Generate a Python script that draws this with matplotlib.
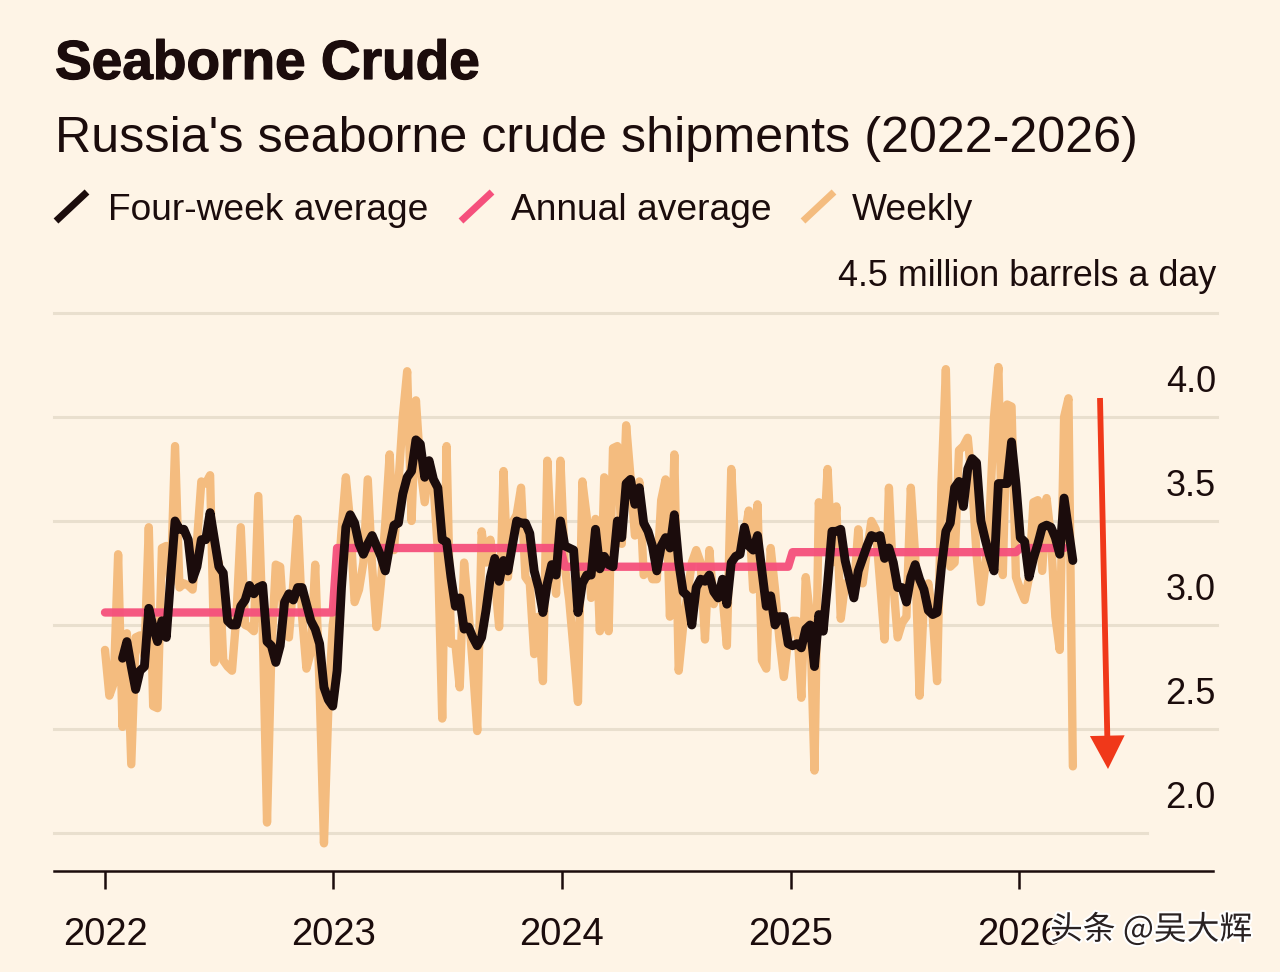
import matplotlib
matplotlib.use("Agg")
import matplotlib.pyplot as plt
import matplotlib.dates as mdates
import matplotlib.patheffects as pe
from matplotlib.lines import Line2D
import pandas as pd

# ── Data ──────────────────────────────────────────────────────────────────────
weekly = [
    2.88, 2.66, 2.72, 3.34, 2.51, 2.96, 2.33, 2.94, 2.95, 2.85, 3.47, 2.61, 2.60,
    3.37, 3.38, 3.20, 3.86, 3.18, 3.20, 3.19, 3.17, 3.40, 3.69, 3.68, 3.72, 2.82,
    3.30, 2.83, 2.80, 2.78, 3.04, 3.47, 3.00, 2.99, 2.97, 3.62, 3.00, 2.05, 2.88,
    3.29, 3.28, 2.96, 2.94, 3.20, 3.51, 3.04, 2.79, 2.87, 3.29, 2.70, 1.95, 2.60,
    3.00, 3.15, 3.45, 3.71, 3.49, 3.11, 3.17, 3.30, 3.70, 3.28, 2.99, 3.20, 3.49,
    3.82, 3.36, 3.68, 4.00, 4.22, 3.50, 4.08, 3.76, 3.59, 3.76, 3.68, 3.36, 2.55,
    3.86, 2.91, 2.91, 2.70, 3.30, 3.07, 2.80, 2.49, 3.45, 3.30, 3.41, 3.23, 2.99,
    3.74, 3.23, 3.49, 3.53, 3.66, 3.23, 3.20, 2.86, 3.04, 2.73, 3.79, 3.36, 3.15,
    3.79, 3.28, 3.12, 2.88, 2.63, 3.69, 3.52, 3.13, 3.51, 2.97, 3.71, 2.97, 3.85,
    3.86, 3.39, 3.96, 3.71, 3.43, 3.69, 3.24, 3.28, 3.22, 3.22, 3.60, 3.70, 3.04,
    3.82, 2.78, 2.99, 3.15, 3.30, 3.36, 3.30, 2.93, 3.36, 3.10, 3.17, 3.14, 2.90,
    3.75, 3.33, 3.36, 3.42, 3.55, 3.17, 3.58, 2.83, 2.79, 3.37, 3.17, 2.93, 2.75,
    2.93, 3.02, 3.02, 2.65, 3.23, 3.04, 2.30, 3.59, 3.36, 3.75, 3.30, 3.57, 3.03,
    3.20, 3.17, 3.17, 3.46, 3.20, 3.36, 3.50, 3.46, 3.20, 2.93, 3.66, 3.20, 2.94,
    3.01, 3.04, 3.66, 3.33, 2.66, 3.12, 3.20, 3.04, 2.73, 3.68, 4.23, 3.28, 3.30,
    3.84, 3.86, 3.90, 3.68, 3.34, 3.11, 3.28, 3.52, 4.00, 4.24, 3.24, 4.06, 4.05,
    3.23, 3.17, 3.12, 3.23, 3.59, 3.60, 3.26, 3.61, 3.42, 3.04, 2.88, 4.00, 4.09,
    2.32,
]
four_week = [
    2.84, 2.92, 2.80, 2.69, 2.78, 2.80, 3.08, 2.99, 2.92, 3.02, 2.94, 3.23, 3.50,
    3.46, 3.46, 3.41, 3.22, 3.28, 3.41, 3.41, 3.54, 3.41, 3.28, 3.25, 3.02, 3.00,
    3.00, 3.09, 3.12, 3.19, 3.15, 3.18, 3.19, 2.92, 2.90, 2.82, 2.90, 3.11, 3.15,
    3.12, 3.18, 3.18, 3.10, 3.02, 2.98, 2.91, 2.70, 2.64, 2.61, 2.78, 3.18, 3.47,
    3.53, 3.49, 3.39, 3.34, 3.39, 3.43, 3.38, 3.33, 3.26, 3.38, 3.48, 3.49, 3.63,
    3.71, 3.74, 3.89, 3.87, 3.71, 3.79, 3.70, 3.66, 3.41, 3.40, 3.23, 3.09, 3.13,
    2.98, 2.99, 2.94, 2.90, 2.94, 3.07, 3.23, 3.32, 3.21, 3.31, 3.26, 3.38, 3.50,
    3.49, 3.49, 3.44, 3.26, 3.18, 3.06, 3.20, 3.29, 3.24, 3.50, 3.38, 3.37, 3.36,
    3.06, 3.20, 3.24, 3.24, 3.46, 3.27, 3.33, 3.29, 3.28, 3.50, 3.42, 3.68, 3.70,
    3.58, 3.66, 3.49, 3.45, 3.38, 3.26, 3.38, 3.42, 3.37, 3.53, 3.30, 3.16, 3.14,
    3.00, 3.18, 3.22, 3.21, 3.24, 3.16, 3.13, 3.22, 3.10, 3.30, 3.33, 3.34, 3.47,
    3.38, 3.36, 3.43, 3.26, 3.09, 3.14, 3.00, 3.04, 3.04, 2.91, 2.90, 2.91, 2.89,
    2.98, 3.00, 2.80, 3.05, 2.97, 3.20, 3.45, 3.45, 3.46, 3.31, 3.22, 3.13, 3.26,
    3.32, 3.38, 3.43, 3.42, 3.43, 3.32, 3.37, 3.30, 3.18, 3.18, 3.11, 3.23, 3.29,
    3.22, 3.17, 3.07, 3.05, 3.06, 3.28, 3.45, 3.49, 3.66, 3.69, 3.57, 3.75, 3.80,
    3.78, 3.50, 3.41, 3.33, 3.26, 3.68, 3.68, 3.68, 3.88, 3.68, 3.42, 3.40, 3.23,
    3.32, 3.39, 3.47, 3.48, 3.47, 3.42, 3.34, 3.61, 3.46, 3.31,
]
annual_by_year = {2022: 3.06, 2023: 3.37, 2024: 3.28, 2025: 3.35, 2026: 3.37}
annual_weeks = 220

y_ticks = [4.0, 3.5, 3.0, 2.5, 2.0]
grid_levels = [4.5, 4.0, 3.5, 3.0, 2.5, 2.0]
year_ticks = [2022, 2023, 2024, 2025, 2026]

# ── Colores y estilo ──────────────────────────────────────────────────────────
BG = "#FEF4E6"
INK = "#1B0C0C"
WEEKLY = "#F4BC7F"
ANNUAL = "#F5507C"
GRID = "#E9DFCE"
ARROW = "#F0381A"
W, H = 1280, 972

plt.rcParams["font.family"] = ["Liberation Sans", "DejaVu Sans"]


def px(x, y):
    return x / W, 1 - y / H


fig = plt.figure(figsize=(12.8, 9.72), dpi=100, facecolor=BG)
ax = fig.add_axes([54 / W, 1 - 871 / H, (1213 - 54) / W, (871 - 313) / H], facecolor=BG)

dates = pd.date_range("2022-01-01", periods=len(weekly), freq="7D")
base = mdates.date2num(pd.Timestamp("2022-01-01"))
ax.set_xlim(base - 81.5, base + 1461 + 310)
ax.set_ylim(1.817, 4.5)

for lvl in grid_levels:
    ax.axhline(lvl, xmin=0, xmax=0.943 if lvl == 2.0 else 1.0035, color=GRID,
               lw=2.2, zorder=1, clip_on=False)

annual = [annual_by_year[d.year] for d in dates[:annual_weeks]]
ax.plot(dates, weekly, color=WEEKLY, lw=6.0, solid_joinstyle="round",
        solid_capstyle="round", zorder=2)
ax.plot(dates[:annual_weeks], annual, color=ANNUAL, lw=6.0, alpha=0.95,
        solid_joinstyle="round", solid_capstyle="round", zorder=3)
ax.plot(dates[-len(four_week):], four_week, color=INK, lw=6.4,
        solid_joinstyle="round", solid_capstyle="round", zorder=4)

# Ejes
for side in ["top", "left", "right"]:
    ax.spines[side].set_visible(False)
ax.spines["bottom"].set_color(INK)
ax.spines["bottom"].set_linewidth(1.8)
ax.set_yticks([])
ax.set_xticks([pd.Timestamp(f"{y}-01-01") for y in year_ticks])
ax.set_xticklabels([str(y) for y in year_ticks], fontsize=27.5, color=INK)
ax.tick_params(axis="x", length=13, width=1.8, color=INK, pad=20)

for v in y_ticks:
    ax.annotate(f"{v:.1f}", xy=(1, v), xycoords=("axes fraction", "data"),
                xytext=(2, 12), textcoords="offset points", ha="right",
                va="bottom", fontsize=26, color=INK)

# Títulos y leyenda
x0, y0 = px(55, 65)
fig.text(x0, y0, "Seaborne Crude", fontsize=39.6, fontweight="bold", color=INK,
         ha="left", va="center",
         path_effects=[pe.withStroke(linewidth=0.9, foreground=INK)])
x0, y0 = px(55, 139)
fig.text(x0, y0, "Russia's seaborne crude shipments (2022-2026)", fontsize=36.2,
         color=INK, ha="left", va="center")
x0, y0 = px(1216, 277)
fig.text(x0, y0, "4.5 million barrels a day", fontsize=25.85, color=INK,
         ha="right", va="center")

legend_items = [("Four-week average", INK, 56, 108),
                ("Annual average", ANNUAL, 461, 511),
                ("Weekly", WEEKLY, 803, 852)]
for label, col, xs, xt in legend_items:
    a, b = px(xs, 221)
    c, d = px(xs + 31, 192)
    fig.add_artist(Line2D([a, c], [b, d], color=col, lw=5.0, solid_capstyle="butt"))
    tx, ty = px(xt, 210)
    fig.text(tx, ty, label, fontsize=26.7, color=INK, ha="left", va="center")

# Flecha
ax.annotate("", xy=(1108, H - 769), xytext=(1100, H - 398),
            xycoords="figure pixels", textcoords="figure pixels",
            arrowprops=dict(width=4.2, headwidth=25, headlength=24, shrink=0,
                            facecolor=ARROW, edgecolor=ARROW, lw=0),
            zorder=5)

# Marca de agua
x0, y0 = px(1050, 930)
fig.text(x0, y0, "头条 @吴大辉", fontsize=23.6, color="#2A2222", ha="left", va="center",
         family=["Noto Sans CJK SC", "DejaVu Sans"], zorder=10,
         path_effects=[pe.withStroke(linewidth=3, foreground="white")])

fig.savefig("out.png", dpi=100, facecolor=BG)
